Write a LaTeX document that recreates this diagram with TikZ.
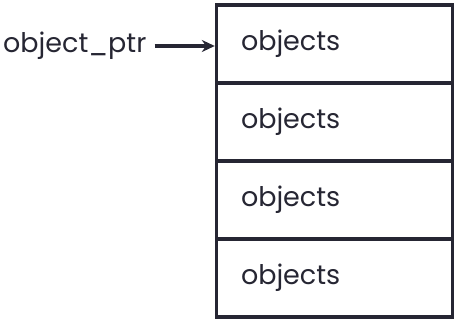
\documentclass[tikz,border=0pt]{standalone}
\usepackage{fontspec}
\setmainfont{Poppins}
\usetikzlibrary{arrows.meta}
\definecolor{ink}{HTML}{262633}
\begin{document}
\begin{tikzpicture}[x=1pt,y=1pt,
  cell/.style={draw=ink, line width=3.4pt, minimum width=236pt, minimum height=78pt,
    text width=187pt, align=left, inner sep=0pt, font=\fontsize{27}{30}\selectfont, text=ink},
  ptr/.style={draw=ink, line width=3.4pt, -{Stealth[length=13pt,width=12pt]}}]
\useasboundingbox (0,0) rectangle (457,322);
\node[cell] (r1) at (334.5,278) {objects};
\node[cell] (r2) at (334.5,200) {objects};
\node[cell] (r3) at (334.5,122) {objects};
\node[cell] (r4) at (334.5,44) {objects};
\node[anchor=west, inner sep=0pt, font=\fontsize{27}{30}\selectfont, text=ink] (lab) at (3,276) {object\_ptr};
\draw[ptr] ([xshift=8pt]lab.east) -- (lab.east -| r1.west);
\end{tikzpicture}
\end{document}
